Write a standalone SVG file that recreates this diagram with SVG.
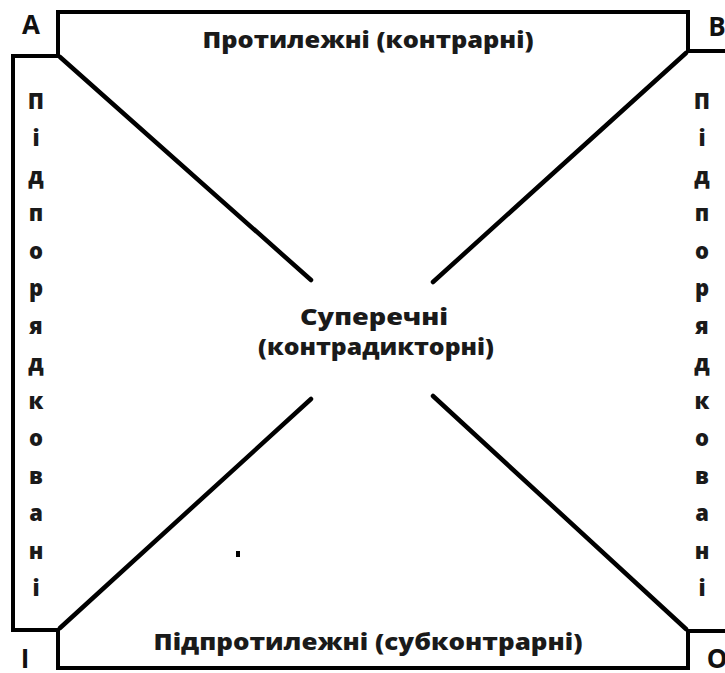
<svg xmlns="http://www.w3.org/2000/svg" width="725" height="673" viewBox="0 0 725 673">
<style>
.ln{fill:none;stroke:#000;stroke-width:4;stroke-linejoin:miter;stroke-linecap:butt}
.dg{fill:none;stroke:#000;stroke-width:4.5;stroke-linecap:round}
.t{font-family:"Open Sans","Noto Sans","DejaVu Sans",sans-serif;font-weight:800;font-size:22px;fill:#1a1a1a;text-anchor:middle}
.c{font-family:"Open Sans","Noto Sans","DejaVu Sans",sans-serif;font-weight:bold;font-size:26px;fill:#111;text-anchor:middle}
.v{font-family:"Open Sans","Noto Sans","DejaVu Sans",sans-serif;font-weight:800;font-size:22px;fill:#1a1a1a;text-anchor:middle}
</style>
<rect width="725" height="673" fill="#fff"/>
<g id="frame">
<polyline class="ln" points="725,51 688,51 688,12 58,12 58,56 13,56 13,630 58,630 58,668 688,668 688,631 725,631"/>
</g>
<g id="connectors">
<line class="dg" x1="60" y1="57" x2="311" y2="280"/>
<line class="dg" x1="686" y1="53" x2="433" y2="282"/>
<line class="dg" x1="60" y1="628" x2="311" y2="399"/>
<line class="dg" x1="686" y1="629" x2="433" y2="396"/>
</g>
<g id="corner-A"><text class="c" x="31" y="34">А</text></g>
<g id="corner-B"><text class="c" x="717" y="36">В</text></g>
<g id="corner-I"><text class="c" x="25" y="668">І</text></g>
<g id="corner-O"><text class="c" x="717" y="668">О</text></g>
<g id="top"><text class="t" x="368" y="48" textLength="331" lengthAdjust="spacingAndGlyphs">Протилежні (контрарні)</text></g>
<g id="bottom"><text class="t" x="368" y="650" textLength="429" lengthAdjust="spacingAndGlyphs">Підпротилежні (субконтрарні)</text></g>
<g id="center"><text class="t" x="374" y="325" textLength="148" lengthAdjust="spacingAndGlyphs">Суперечні</text><text class="t" x="376" y="355" textLength="236" lengthAdjust="spacingAndGlyphs">(контрадикторні)</text></g>
<g id="left">
<text class="v" x="36" y="109">П</text><text class="v" x="36" y="146">і</text><text class="v" x="36" y="184">д</text><text class="v" x="36" y="221">п</text><text class="v" x="36" y="259">о</text><text class="v" x="36" y="296">р</text><text class="v" x="36" y="334">я</text><text class="v" x="36" y="371">д</text><text class="v" x="36" y="409">к</text><text class="v" x="36" y="446">о</text><text class="v" x="36" y="484">в</text><text class="v" x="36" y="521">а</text><text class="v" x="36" y="559">н</text><text class="v" x="36" y="596">і</text>
</g>
<g id="right">
<text class="v" x="702" y="109">П</text><text class="v" x="702" y="146">і</text><text class="v" x="702" y="184">д</text><text class="v" x="702" y="221">п</text><text class="v" x="702" y="259">о</text><text class="v" x="702" y="296">р</text><text class="v" x="702" y="334">я</text><text class="v" x="702" y="371">д</text><text class="v" x="702" y="409">к</text><text class="v" x="702" y="446">о</text><text class="v" x="702" y="484">в</text><text class="v" x="702" y="521">а</text><text class="v" x="702" y="559">н</text><text class="v" x="702" y="596">і</text>
</g>
<rect x="236" y="551" width="4" height="6" fill="#000"/>
</svg>
